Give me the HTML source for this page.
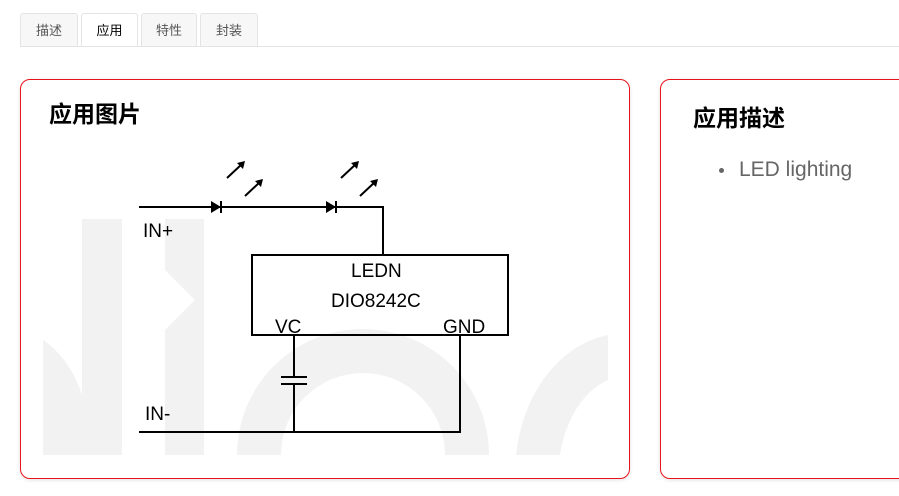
<!DOCTYPE html>
<html><head><meta charset="utf-8"><style>
body{margin:0;width:899px;height:496px;background:#fff;position:relative;overflow:hidden;font-family:"Liberation Sans","Noto Sans CJK SC",sans-serif}
.tab{position:absolute;top:13px;height:33px;border:1px solid #e4e4e4;border-bottom:none;border-radius:3px 3px 0 0;background:#f7f7f7;font-size:13px;color:#555;text-align:center;line-height:33px;box-sizing:border-box}
.tab.a{background:#fff;color:#000;height:34px}
.line{position:absolute;left:20px;right:0;top:46px;border-top:1px solid #e4e4e4}
.card{position:absolute;top:79px;height:400px;border:1px solid #e8141c;border-radius:10px;box-sizing:border-box;box-shadow:0 1px 4px rgba(0,0,0,.12)}
h2{position:absolute;margin:0;font-size:23px;font-weight:bold;color:#000}
</style></head><body>
<div class="tab" style="left:20px;width:58px">描述</div>
<div class="tab a" style="left:81px;width:57px">应用</div>
<div class="tab" style="left:141px;width:56px">特性</div>
<div class="tab" style="left:200px;width:58px">封装</div>
<div class="line"></div>
<div class="card" style="left:20px;width:610px"></div>
<div class="card" style="left:660px;width:260px"></div>
<h2 style="left:49px;top:95px">应用图片</h2>
<h2 style="left:693px;top:99px">应用描述</h2>
<div style="position:absolute;left:719px;top:168px;width:5px;height:5px;border-radius:50%;background:#666"></div>
<div style="position:absolute;left:739px;top:158px;font-size:21px;color:#666">LED lighting</div>
<svg style="position:absolute;left:0;top:0" width="899" height="496">
<defs><clipPath id="c"><rect x="43" y="140" width="565" height="315"/></clipPath></defs>
<g clip-path="url(#c)" fill="#f2f2f2">
<path d="M43 340 A80 110 0 0 1 88 455 L43 455Z"/>
<rect x="82" y="219" width="40" height="236"/>
<path d="M165 219 L204 219 L204 455 L165 455 L165 330 L195 300 L165 270Z"/>
<path d="M237 455 A126 126 0 0 1 489 455 L445 455 A82 82 0 0 0 281 455Z"/>
<path d="M516 455 A110 140 0 0 1 608 335 L608 380 A70 100 0 0 0 560 455Z"/>
</g>
<g stroke="#000" stroke-width="2" fill="none">
<path d="M139 207 H383 V255"/>
<rect x="252" y="255" width="256" height="80"/>
<path d="M294 335 V377 M294 384 V432 M139 432 H460 V335"/>
<path d="M281 377 H307 M281 384 H307"/>
<path d="M221 201 V213 M336 201 V213"/>
<path d="M227 178 L242 164 M245 196 L260 182 M341 178 L356 164 M360 196 L375 182" stroke-width="2"/>
</g>
<g fill="#000">
<path d="M211 201 L221 207 L211 213Z"/><path d="M326 201 L336 207 L326 213Z"/>
<path d="M245 161 L237 163 L243 169Z"/><path d="M263 179 L255 181 L261 187Z"/>
<path d="M359 161 L351 163 L357 169Z"/><path d="M378 179 L370 181 L376 187Z"/>
</g>
<g font-family="Liberation Sans" font-size="19" fill="#000">
<text x="143" y="237">IN+</text><text x="145" y="420">IN-</text>
<text x="351" y="277">LEDN</text><text x="331" y="307">DIO8242C</text>
<text x="275" y="333">VC</text><text x="443" y="333">GND</text>
</g>
</svg>
</body></html>
